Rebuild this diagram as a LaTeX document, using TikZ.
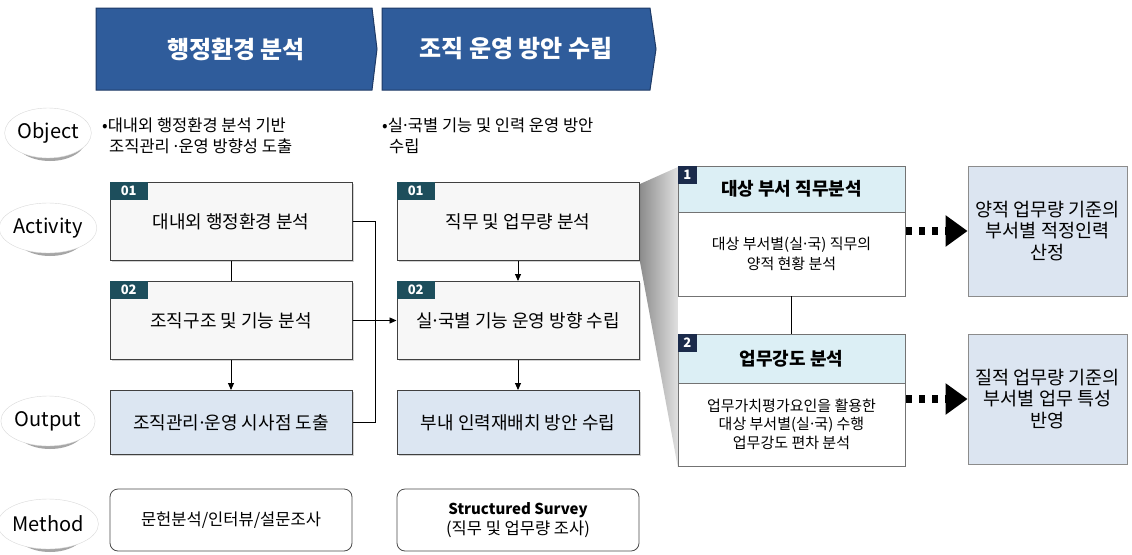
\documentclass[tikz,border=0pt]{standalone}
\usepackage{fontspec}
\setmainfont{Noto Sans CJK KR}
\usetikzlibrary{arrows.meta,shapes.geometric,shadows}
\definecolor{banner}{HTML}{2F5C9B}
\definecolor{bannerdk}{HTML}{1E3A66}
\definecolor{tabc}{HTML}{1D4E5C}
\definecolor{navy}{HTML}{1B2B4B}
\definecolor{outfill}{HTML}{DCE6F2}
\definecolor{hdrfill}{HTML}{DCEFF5}
\definecolor{actfill}{HTML}{F7F7F7}
\definecolor{resfill}{HTML}{DCE5F1}
\newcommand{\fs}[1]{\fontsize{#1}{#1}\selectfont}
\newcommand{\md}{\makebox[0.3em]{·}}
\begin{document}
\begin{tikzpicture}[x=1pt,y=-1pt,
  actbox/.style={draw=black!75, line width=1pt, fill=actfill, minimum width=242pt, minimum height=78pt, inner sep=0pt, font=\fs{18}, drop shadow={shadow xshift=1.5pt, shadow yshift=-1.5pt, opacity=0.35}},
  outbox/.style={actbox, fill=outfill, minimum height=64pt},
  methbox/.style={draw=black!70, line width=0.8pt, rounded corners=8pt, fill=white, minimum width=242pt, minimum height=62pt, inner sep=0pt, font=\fs{16.5}, align=center},
  tabnum/.style={fill=tabc, text=white, font=\bfseries\fs{13}, minimum width=38pt, minimum height=18pt, inner sep=0pt, anchor=north west},
  ptab/.style={fill=navy, text=white, font=\bfseries\fs{13}, minimum width=19pt, minimum height=18pt, inner sep=0pt, anchor=north west},
  phdr/.style={draw=black!55, line width=0.8pt, fill=hdrfill, minimum width=227pt, inner sep=0pt, font=\bfseries\fs{18}},
  pbody/.style={draw=black!55, line width=0.8pt, fill=white, minimum width=227pt, inner sep=0pt, font=\fs{15}, align=center},
  resbox/.style={draw=black!45, line width=0.8pt, fill=resfill, minimum width=159pt, minimum height=130pt, inner sep=0pt, font=\fs{18.5}, align=center},
  rowlbl/.style={ellipse, fill=white, draw=black!15, minimum width=80pt, minimum height=50pt, inner sep=0pt, font=\fs{20}},
  rowshadow/.style={ellipse, fill=black!35, minimum width=72pt, minimum height=44pt, inner sep=0pt},
  bantext/.style={text=white, font=\bfseries\fs{24}},
  objtext/.style={anchor=west, align=left, font=\fs{16.5}, inner sep=0pt},
  conn/.style={draw=black, line width=0.9pt},
  arr/.style={conn, -{Triangle[length=7pt,width=6pt]}},
  bigarr/.style={line width=8pt, dash pattern=on 6pt off 7pt, -{Triangle[length=22pt,width=30pt]}}
]
\useasboundingbox (0,0) rectangle (1132,554);
\fill[white] (0,0) rectangle (1132,554);

% banners
\path[fill=banner, draw=bannerdk, line width=1pt] (96,8) -- (372,8) -- (377,49) -- (372,90) -- (96,90) -- cycle;
\path[fill=banner, draw=bannerdk, line width=1pt] (382,8) -- (650,8) -- (656,49) -- (650,90) -- (382,90) -- cycle;
\node[bantext] (b1) at (236,49) {행정환경 분석};
\node[bantext] (b2) at (516,49) {조직 운영 방안 수립};

% row labels
\foreach \n/\t/\yy in {lo/Object/133, la/Activity/228, lu/Output/421, lm/Method/524}{
  \node[rowshadow] at (50,\yy+6) {};
  \node[rowlbl] (\n) at (48,\yy) {\t};
}

% object texts
\node[objtext] (o1) at (102,136) {•대내외 행정환경 분석 기반\\[4pt]\hspace*{7pt}조직관리 \md{}운영 방향성 도출};
\node[objtext] (o2) at (382,136) {•실\md{}국별 기능 및 인력 운영 방안\\[4pt]\hspace*{7pt}수립};

% funnel wedge
\shade[left color=black!45, right color=black!12] (640,184) -- (678,167) -- (678,468) -- (640,262) -- cycle;

% activity boxes left
\node[actbox] (a1L) at (231,221.5) {\raisebox{-4pt}{대내외 행정환경 분석}};
\node[tabnum] (t1L) at (a1L.north west) {01};
\node[actbox] (a2L) at (231,320.5) {\raisebox{-4pt}{조직구조 및 기능 분석}};
\node[tabnum] (t2L) at (a2L.north west) {02};
\node[outbox] (oL) at (231,422.5) {조직관리\md{}운영 시사점 도출};
\node[methbox] (mL) at (231,520) {문헌분석/인터뷰/설문조사};

% activity boxes right
\node[actbox] (a1R) at (518,221.5) {\raisebox{-4pt}{직무 및 업무량 분석}};
\node[tabnum] (t1R) at (a1R.north west) {01};
\node[actbox] (a2R) at (518,320.5) {\raisebox{-4pt}{실\md{}국별 기능 운영 방향 수립}};
\node[tabnum] (t2R) at (a2R.north west) {02};
\node[outbox] (oR) at (518,422.5) {부내 인력재배치 방안 수립};
\node[methbox] (mR) at (518,520) {{\bfseries\fs{15}Structured Survey}\\[2pt](직무 및 업무량 조사)};

% connectors left/right
\draw[conn] (a1L) -- (a2L);
\draw[conn] (a1L.east) -- ++(23,0) |- (oL.east);
\draw[arr] (a2L.east) -- (a2R.west);
\draw[arr] (a2L.south) -- (oL.north);
\draw[arr] (a1R.south) -- (a2R.north);
\draw[arr] (a2R.south) -- (oR.north);

% right panel
\node[phdr, minimum height=46pt] (p1h) at (791.5,189) {대상 부서 직무분석};
\node[pbody, minimum height=84pt] (p1b) at (791.5,254) {대상 부서별(실\md{}국) 직무의\\[3pt]양적 현황 분석};
\node[ptab] (pt1) at (p1h.north west) {1};
\node[phdr, minimum height=49pt] (p2h) at (791.5,358.5) {업무강도 분석};
\node[pbody, minimum height=83pt] (p2b) at (791.5,424.5) {업무가치평가요인을 활용한\\[3pt]대상 부서별(실\md{}국) 수행\\[3pt]업무강도 편차 분석};
\node[ptab] (pt2) at (p2h.north west) {2};
\draw[conn] (p1b.south) -- (p2h.north);

\node[resbox] (r1) at (1047.5,231) {양적 업무량 기준의\\[3pt]부서별 적정인력\\[3pt]산정};
\node[resbox] (r2) at (1047.5,399) {질적 업무량 기준의\\[3pt]부서별 업무 특성\\[3pt]반영};

\draw[bigarr] (p1b.east |- r1.west) ++(1,0) -- (r1.west);
\draw[bigarr] (p2b.east |- r2.west) ++(1,0) -- (r2.west);
\end{tikzpicture}
\end{document}
